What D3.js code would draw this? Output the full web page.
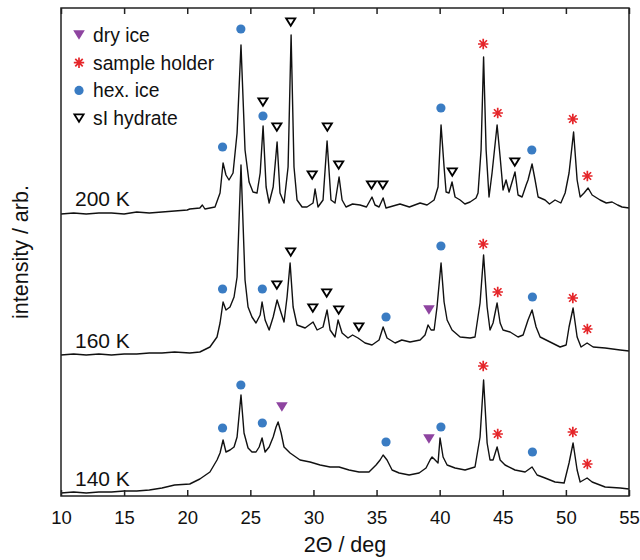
<!DOCTYPE html>
<html>
<head>
<meta charset="utf-8">
<script src="https://cdn.jsdelivr.net/npm/d3@7"></script>
<style>
  html, body { margin: 0; padding: 0; background: #fff; }
  svg { display: block; font-family: "Liberation Sans", Arial, sans-serif; }
</style>
</head>
<body>
<div id="chart"></div>
<script>
// ── Data (2θ in deg, intensity in arb. units above each trace's baseline) ──
const temps = ["200 K", "160 K", "140 K"];
const offsets = [283, 141, 3];

const spec200 = [
  [10,-1],[11,0],[12,-1],[13,0],[14,0],[15,-1],[16,1],[17,0],[18,1],[19,2],[20,3],[20.2,4],[21.0,5],[21.2,8],[21.4,4],
  [22.2,6],[22.6,20],[22.84,50],[23.07,38],[23.31,33],[23.63,40],[23.95,80],[24.26,168],[24.58,63],[24.9,31],
  [25.21,21],[25.53,20],[25.78,40],[26.01,87],[26.25,26],[26.49,10],[26.81,26],[27.12,71],[27.35,20],[27.67,10],
  [27.99,46],[28.23,178],[28.46,46],[28.7,13],[29.1,6],[29.49,6],[29.97,10],[30.13,24],[30.36,6],[30.76,13],
  [31.08,72],[31.39,13],[31.71,10],[32.03,36],[32.27,13],[32.58,6],[33.1,9],[33.69,8],[34.2,6],[34.64,16],[34.88,8],
  [35.2,6],[35.52,15],[35.75,5],[36.3,7],[36.86,9],[37.6,6],[38.45,10],[39.0,8],[39.56,13],[39.87,26],[40.11,88],
  [40.35,46],[40.51,21],[40.74,20],[40.98,31],[41.22,16],[41.62,13],[42.0,9],[42.41,11],[42.88,15],[43.04,20],
  [43.28,63],[43.48,156],[43.68,63],[43.91,16],[44.15,40],[44.55,88],[44.79,56],[45.02,23],[45.26,33],[45.5,21],
  [45.97,41],[46.21,18],[46.53,16],[46.85,28],[47.0,33],[47.32,49],[47.56,33],[47.8,16],[48.35,13],[48.7,9],
  [49.14,13],[49.6,10],[49.94,20],[50.25,40],[50.61,81],[50.89,33],[51.13,16],[51.44,20],[51.76,25],[52.08,18],
  [52.71,13],[53.2,10],[53.66,11],[54.1,8],[54.45,6],[55,5]
];

const spec160 = [
  [10,0],[11,1],[12,0],[13,1],[14,0],[15,1],[16,1],[17,2],[18,2],[19,3],[20.2,2],[21.0,3],[21.8,8],[22.36,18],
  [22.6,32],[22.84,53],[23.07,45],[23.39,48],[23.71,58],[23.95,78],[24.26,190],[24.58,75],[24.82,48],[25.13,38],
  [25.45,32],[25.78,40],[25.93,53],[26.17,35],[26.49,25],[26.81,38],[27.12,55],[27.44,42],[27.67,33],[27.91,58],
  [28.15,92],[28.39,48],[28.7,30],[29.34,27],[29.97,33],[30.29,25],[30.76,28],[31.08,45],[31.32,25],[31.71,18],
  [31.95,35],[32.27,22],[32.74,17],[33.1,20],[33.53,17],[34.09,12],[34.64,10],[35.2,15],[35.52,28],[35.83,17],
  [36.47,12],[37.0,15],[37.65,13],[38.45,15],[38.84,20],[39.08,30],[39.32,25],[39.56,25],[39.79,48],[40.11,92],
  [40.35,53],[40.59,35],[40.98,25],[41.62,18],[42.41,17],[42.8,18],[43.2,52],[43.48,100],[43.76,48],[43.99,25],
  [44.23,32],[44.55,52],[44.79,32],[45.02,25],[45.58,23],[46.21,18],[46.61,20],[47.0,35],[47.32,45],[47.64,28],
  [47.96,18],[48.75,13],[49.54,8],[50.02,10],[50.25,28],[50.57,47],[50.89,18],[51.2,8],[51.68,12],[52.16,8],
  [53.11,7],[54.3,5],[55,4]
];

const spec140 = [
  [10,0],[11,1],[12,0],[13,1],[14,1],[15,2],[16,2],[17,3],[18,5],[19,8],[20.2,9],[21.0,14],[21.8,21],[22.36,33],
  [22.6,40],[22.84,53],[23.07,41],[23.39,43],[23.71,46],[23.95,56],[24.26,98],[24.5,60],[24.82,45],[25.13,41],
  [25.45,41],[25.7,46],[25.93,55],[26.17,41],[26.49,46],[26.81,56],[27.04,66],[27.2,71],[27.44,60],[27.67,46],
  [28.15,40],[28.94,33],[29.73,31],[30.53,28],[31.32,26],[32.03,26],[32.82,23],[33.61,21],[34.4,21],[34.96,28],
  [35.28,33],[35.52,38],[35.83,33],[36.23,23],[36.79,20],[37.58,18],[38.37,20],[38.92,25],[39.24,33],[39.4,36],
  [39.64,33],[39.87,30],[40.03,55],[40.27,36],[40.59,28],[41.22,25],[42.01,23],[42.8,26],[43.2,56],[43.48,113],
  [43.76,50],[43.99,33],[44.23,33],[44.55,46],[44.79,33],[45.18,28],[45.97,23],[46.77,21],[47.32,26],[47.72,18],
  [48.35,15],[49.14,11],[49.86,10],[50.25,30],[50.57,50],[50.89,23],[51.13,11],[51.68,15],[52.08,11],[53.11,6],
  [54.3,5],[55,4]
];
const spectra = [spec200, spec160, spec140];

// Peak markers: [2θ, height above baseline, trace index]
const hexIce = [
  [22.8,66,0],[24.25,184,0],[26.0,97,0],[40.1,105,0],[47.3,63,0],
  [22.8,66,1],[25.95,66,1],[35.75,38,1],[40.1,109,1],[47.35,58,1],
  [22.8,65,2],[24.25,108,2],[25.95,70,2],[35.75,51,2],[40.1,66,2],[47.35,41,2]
];
const sIHydrate = [
  [28.2,191,0],[26.0,111,0],[27.1,86,0],[29.9,38,0],[31.1,86,0],[32.0,48,0],[34.6,28,0],[35.5,28,0],[41.0,41,0],[45.95,51,0],
  [28.2,103,1],[27.1,70,1],[29.95,47,1],[31.05,62,1],[32.0,45,1],[33.6,28,1]
];
const dryIce = [[39.15,45,1],[27.5,86,2],[39.15,54,2]];
const sampleHolder = [
  [43.45,169,0],[44.6,100,0],[50.55,94,0],[51.7,37,0],
  [43.45,111,1],[44.6,63,1],[50.55,57,1],[51.7,26,1],
  [43.45,127,2],[44.6,59,2],[50.55,61,2],[51.7,29,2]
];
const xTicks = [10, 15, 20, 25, 30, 35, 40, 45, 50, 55];

// ── Layout ──
const W = 640, H = 560;
const m = { left: 61, right: 629, top: 8, bottom: 496 };
const colors = { hex: "#3a7cc3", dry: "#8e44a0", holder: "#e5262a", line: "#111" };

const svg = d3.select("#chart").append("svg").attr("width", W).attr("height", H);

const x = d3.scaleLinear().domain([10, 55]).range([m.left, m.right]);
const y = d3.scaleLinear().domain([0, 488]).range([m.bottom, m.top]);

// ── Traces ──
spectra.forEach((s, i) => {
  const line = d3.line().x(d => x(d[0])).y(d => y(d[1] + offsets[i]));
  svg.append("path")
    .datum(s)
    .attr("d", line)
    .attr("fill", "none")
    .attr("stroke", colors.line)
    .attr("stroke-width", 1.4)
    .attr("stroke-linejoin", "round");
});

// ── Marker shapes ──
function triDown(s) {
  return `M${-s},${-s * 0.8} L${s},${-s * 0.8} L0,${s * 0.8} Z`;
}
function asterisk(r) {
  const d = r * 0.72;
  return `M${-r},0 L${r},0 M0,${-r} L0,${r} M${-d},${-d} L${d},${d} M${-d},${d} L${d},${-d}`;
}

function drawHex(g, px, py) {
  g.append("circle").attr("cx", px).attr("cy", py).attr("r", 4.6).attr("fill", colors.hex);
}
function drawSI(g, px, py) {
  g.append("path").attr("d", triDown(4.6)).attr("transform", `translate(${px},${py})`)
    .attr("fill", "#fff").attr("stroke", "#000").attr("stroke-width", 1.8).attr("stroke-linejoin", "miter");
}
function drawDry(g, px, py) {
  g.append("path").attr("d", triDown(5.8)).attr("transform", `translate(${px},${py})`)
    .attr("fill", colors.dry);
}
function drawHolder(g, px, py) {
  g.append("path").attr("d", asterisk(5.2)).attr("transform", `translate(${px},${py})`)
    .attr("stroke", colors.holder).attr("stroke-width", 1.7).attr("fill", "none");
}

const mk = svg.append("g");
hexIce.forEach(d => drawHex(mk, x(d[0]), y(d[1] + offsets[d[2]])));
sIHydrate.forEach(d => drawSI(mk, x(d[0]), y(d[1] + offsets[d[2]])));
dryIce.forEach(d => drawDry(mk, x(d[0]), y(d[1] + offsets[d[2]])));
sampleHolder.forEach(d => drawHolder(mk, x(d[0]), y(d[1] + offsets[d[2]])));

// ── Temperature labels ──
temps.forEach((t, i) => {
  svg.append("text")
    .attr("x", 75)
    .attr("y", y(offsets[i]) - 7)
    .attr("font-size", 21)
    .attr("fill", "#111")
    .text(t);
});

// ── Frame & axes ──
svg.append("rect")
  .attr("x", m.left).attr("y", m.top)
  .attr("width", m.right - m.left).attr("height", m.bottom - m.top)
  .attr("fill", "none").attr("stroke", "#222").attr("stroke-width", 1.5);

const axB = d3.axisBottom(x).tickValues(xTicks).tickSizeInner(-6).tickSizeOuter(0).tickPadding(15);
const gB = svg.append("g").attr("transform", `translate(0,${m.bottom})`).call(axB);
gB.select(".domain").remove();
gB.selectAll(".tick line").attr("stroke", "#222").attr("stroke-width", 1.5);
gB.selectAll(".tick text").attr("font-size", 18.5).attr("fill", "#111")
  .attr("font-family", "'Liberation Sans', Arial, sans-serif");

const axT = d3.axisTop(x).tickValues(xTicks).tickSizeInner(-6).tickSizeOuter(0).tickFormat("");
const gT = svg.append("g").attr("transform", `translate(0,${m.top})`).call(axT);
gT.select(".domain").remove();
gT.selectAll(".tick line").attr("stroke", "#222").attr("stroke-width", 1.5);

svg.append("text")
  .attr("x", (m.left + m.right) / 2).attr("y", 552)
  .attr("text-anchor", "middle").attr("font-size", 21.5).attr("fill", "#111")
  .text("2Θ / deg");

svg.append("text")
  .attr("transform", `translate(28,252) rotate(-90)`)
  .attr("text-anchor", "middle").attr("font-size", 21.5).attr("fill", "#111")
  .text("intensity / arb.");

// ── Legend ──
const legendItems = [
  { label: "dry ice", draw: drawDry },
  { label: "sample holder", draw: drawHolder },
  { label: "hex. ice", draw: drawHex },
  { label: "sI hydrate", draw: drawSI }
];
const lg = svg.append("g");
legendItems.forEach((it, i) => {
  const ly = 35 + i * 27.7;
  it.draw(lg, 79, ly);
  lg.append("text").attr("x", 93).attr("y", ly + 7)
    .attr("font-size", 19.3).attr("fill", "#111").text(it.label);
});
</script>
</body>
</html>
